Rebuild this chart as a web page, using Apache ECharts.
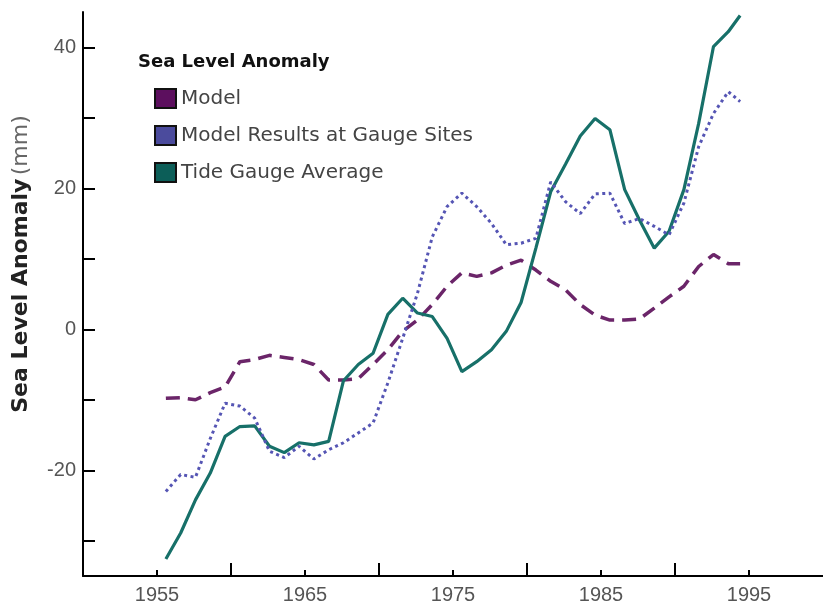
<!DOCTYPE html>
<html>
<head>
<meta charset="utf-8">
<script src="https://cdn.jsdelivr.net/npm/echarts@6/dist/echarts.min.js"></script>
<style>
  html, body { margin: 0; padding: 0; background: #fff; }
  #chart { width: 823px; height: 605px; }
</style>
</head>
<body>
<div id="chart"></div>
<script>
  // plotted positions (mid-year samples)
  const years = [
    1955.6, 1956.6, 1957.6, 1958.6, 1959.6, 1960.6, 1961.6, 1962.6, 1963.6, 1964.6,
    1965.6, 1966.6, 1967.6, 1968.6, 1969.6, 1970.6, 1971.6, 1972.6, 1973.6, 1974.6,
    1975.6, 1976.6, 1977.6, 1978.6, 1979.6, 1980.6, 1981.6, 1982.6, 1983.6, 1984.6,
    1985.6, 1986.6, 1987.6, 1988.6, 1989.6, 1990.6, 1991.6, 1992.6, 1993.6, 1994.4
  ]
  const modelValues = [
    -9.8, -9.7, -10.0, -9.0, -8.2, -4.6, -4.3, -3.7, -4.0, -4.3,
    -5.0, -7.2, -7.2, -7.0, -5.0, -2.9, -0.3, 1.3, 3.5, 6.1,
    8.0, 7.5, 8.0, 9.1, 9.8, 8.4, 6.8, 5.6, 3.5, 2.0,
    1.3, 1.3, 1.45, 3.0, 4.6, 6.1, 8.9, 10.6, 9.3, 9.3
  ]
  const gaugeSiteValues = [
    -23.0, -20.6, -21.0, -15.5, -10.5, -10.9, -12.6, -17.3, -18.2, -16.6,
    -18.4, -17.1, -16.1, -14.7, -13.3, -7.6, -1.3, 5.1, 13.1, 17.4,
    19.3, 17.4, 15.0, 12.0, 12.2, 12.9, 20.9, 18.1, 16.4, 19.2,
    19.3, 15.0, 15.7, 14.6, 13.4, 17.9, 25.9, 30.6, 33.7, 32.3
  ]
  const tideValues = [
    -32.6, -28.9, -24.2, -20.4, -15.2, -13.8, -13.7, -16.6, -17.5, -16.1,
    -16.4, -15.9, -7.3, -5.0, -3.4, 2.1, 4.4, 2.3, 1.8, -1.3,
    -6.0, -4.6, -2.9, -0.3, 3.8, 11.5, 19.5, 23.4, 27.4, 29.9,
    28.3, 19.8, 15.5, 11.5, 13.9, 19.8, 29.2, 40.1, 42.2, 44.5
  ]
  const seriesNames = ['Model', 'Model Results at Gauge Sites', 'Tide Gauge Average']

  // axis ticks / labels
  const xLabelYears = [1955, 1965, 1975, 1985, 1995]
  const xLongTickYears = [1960, 1970, 1980, 1990]
  const yTicks = [-30, -20, -10, 0, 10, 20, 30, 40]
  const yLabels = [-20, 0, 20, 40]

  const toPairs = vals => years.map((yr, i) => [yr, vals[i]])

  const chart = echarts.init(document.getElementById('chart'))
  const tickFont = { color: '#555', fontSize: 20, fontFamily: 'Liberation Sans' }

  chart.setOption({
    animation: false,
    backgroundColor: '#fff',
    grid: { left: 83, right: -7, top: 12, bottom: 29 },
    title: {
      text: 'Sea Level Anomaly',
      left: 138,
      top: 53,
      padding: 0,
      textStyle: { fontFamily: 'DejaVu Sans', fontWeight: 'bold', fontSize: 18, color: '#111' }
    },
    legend: {
      data: seriesNames,
      orient: 'vertical',
      left: 154,
      top: 88,
      padding: 0,
      icon: 'rect',
      itemWidth: 21,
      itemHeight: 19,
      itemGap: 16,
      textStyle: { fontFamily: 'DejaVu Sans', fontSize: 20, color: '#444', lineHeight: 20 }
    },
    xAxis: [
      {
        type: 'value',
        min: 1950,
        max: 2000,
        position: 'bottom',
        axisLine: { onZero: false, lineStyle: { color: '#000', width: 2 } },
        axisTick: { inside: true, length: 6, customValues: xLabelYears, lineStyle: { color: '#000', width: 2 } },
        axisLabel: Object.assign({ customValues: xLabelYears, margin: 9, formatter: v => String(v) }, tickFont),
        splitLine: { show: false }
      },
      {
        type: 'value',
        min: 1950,
        max: 2000,
        position: 'bottom',
        axisLine: { show: false, onZero: false },
        axisTick: { inside: true, length: 13, customValues: xLongTickYears, lineStyle: { color: '#000', width: 2 } },
        axisLabel: { show: false },
        splitLine: { show: false }
      }
    ],
    yAxis: {
      type: 'value',
      min: -35,
      max: 45,
      axisLine: { show: true, onZero: false, lineStyle: { color: '#000', width: 2 } },
      axisTick: { show: true, inside: true, length: 12, customValues: yTicks, lineStyle: { color: '#000', width: 2 } },
      axisLabel: Object.assign({ customValues: yLabels, margin: 7 }, tickFont),
      splitLine: { show: false }
    },
    graphic: [
      {
        type: 'text',
        x: 21,
        y: 264,
        rotation: Math.PI / 2,
        style: {
          text: '{b|Sea Level Anomaly} {n|(mm)}',
          align: 'center',
          verticalAlign: 'middle',
          rich: {
            b: { fontFamily: 'DejaVu Sans', fontWeight: 'bold', fontSize: 22, fill: '#222' },
            n: { fontFamily: 'DejaVu Sans', fontSize: 22, fill: '#666' }
          }
        }
      }
    ],
    series: [
      {
        name: seriesNames[0],
        type: 'line',
        data: toPairs(modelValues),
        showSymbol: false,
        symbol: 'none',
        z: 2,
        itemStyle: { color: '#5c0f5e', borderColor: '#111', borderWidth: 1.5 },
        lineStyle: { color: '#6b2569', width: 3.5, type: [14, 8] }
      },
      {
        name: seriesNames[1],
        type: 'line',
        data: toPairs(gaugeSiteValues),
        showSymbol: false,
        symbol: 'none',
        z: 4,
        itemStyle: { color: '#4b4b9d', borderColor: '#111', borderWidth: 1.5 },
        lineStyle: { color: '#5555b4', width: 3, type: [3, 3.5] }
      },
      {
        name: seriesNames[2],
        type: 'line',
        data: toPairs(tideValues),
        showSymbol: false,
        symbol: 'none',
        z: 3,
        itemStyle: { color: '#0c5e58', borderColor: '#111', borderWidth: 1.5 },
        lineStyle: { color: '#177069', width: 3.2 }
      }
    ]
  })
</script>
</body>
</html>
